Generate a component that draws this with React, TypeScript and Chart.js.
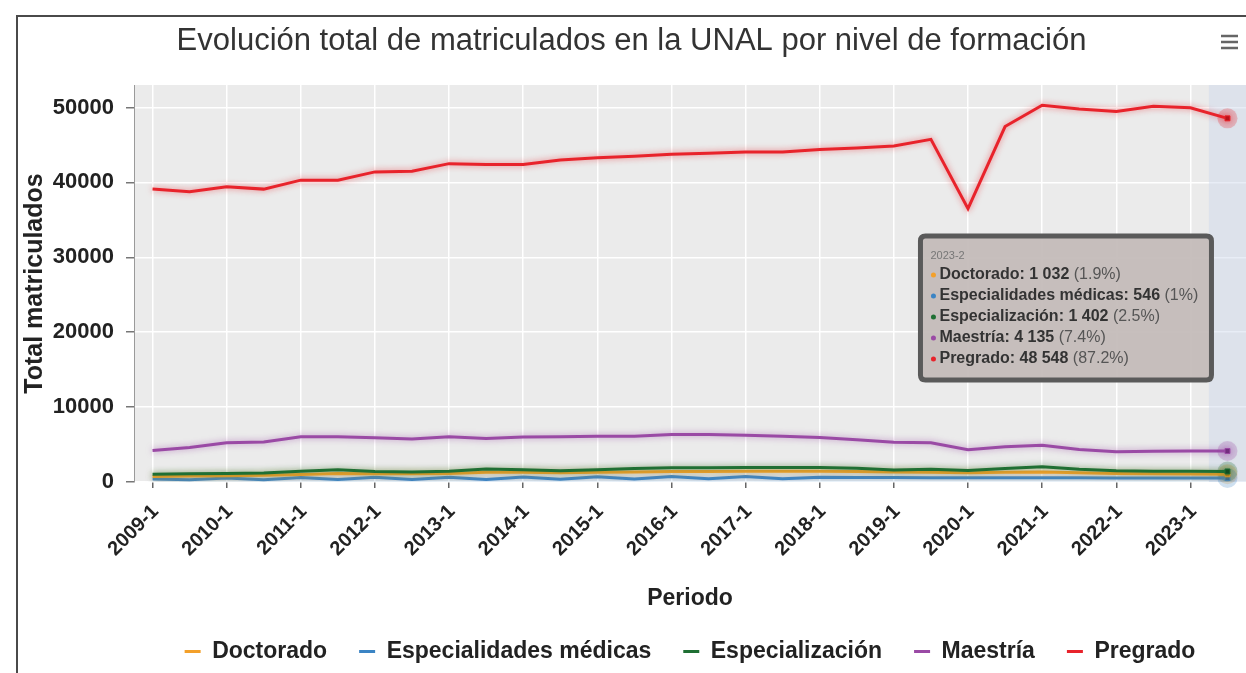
import React, { useEffect, useRef } from 'react';
import { Chart, registerables } from 'chart.js';

Chart.register(...registerables);

const FONT = "'Liberation Sans', Arial, Helvetica, sans-serif";
Chart.defaults.font.family = FONT;

const TITLE = 'Evolución total de matriculados en la UNAL por nivel de formación';

const periods = [
  '2009-1', '2009-2', '2010-1', '2010-2', '2011-1', '2011-2', '2012-1', '2012-2',
  '2013-1', '2013-2', '2014-1', '2014-2', '2015-1', '2015-2', '2016-1', '2016-2',
  '2017-1', '2017-2', '2018-1', '2018-2', '2019-1', '2019-2', '2020-1', '2020-2',
  '2021-1', '2021-2', '2022-1', '2022-2', '2023-1', '2023-2',
];

const doctorado = [
  750, 800, 850, 900, 1000, 1150, 1100, 1100, 1150, 1300, 1300, 1250, 1300, 1350, 1400,
  1400, 1450, 1450, 1450, 1400, 1350, 1300, 1250, 1300, 1350, 1250, 1150, 1100, 1080, 1032,
];

const especialidadesMedicas = [
  400, 300, 550, 300, 600, 320, 650, 340, 650, 350, 680, 380, 700, 400, 720,
  420, 720, 450, 650, 600, 600, 580, 560, 560, 570, 560, 550, 550, 550, 546,
];

const especializacion = [
  1050, 1100, 1150, 1200, 1450, 1650, 1400, 1350, 1450, 1750, 1650, 1500, 1650, 1800, 1900,
  1900, 1950, 1950, 1950, 1850, 1600, 1700, 1550, 1800, 2050, 1700, 1500, 1450, 1450, 1402,
];

const maestria = [
  4200, 4600, 5250, 5350, 6050, 6050, 5900, 5750, 6050, 5800, 6000, 6050, 6100, 6100, 6350,
  6350, 6250, 6100, 5950, 5650, 5300, 5250, 4300, 4700, 4900, 4350, 4050, 4100, 4150, 4135,
];

const pregrado = [
  39100, 38750, 39400, 39100, 40300, 40300, 41400, 41500, 42500, 42400, 42400, 43000, 43300, 43500, 43750,
  43900, 44050, 44050, 44400, 44600, 44850, 45750, 36500, 47450, 50300, 49800, 49450, 50150, 49950, 48548,
];

const yTicks = [0, 10000, 20000, 30000, 40000, 50000];
const yMax = 53000;

const seriesNames = ['Doctorado', 'Especialidades médicas', 'Especialización', 'Maestría', 'Pregrado'];
const seriesValues = [doctorado, especialidadesMedicas, especializacion, maestria, pregrado];
const seriesColors = ['#f3a02a', '#3b84c4', '#1f6f33', '#9a4aa5', '#e8232b'];
const seriesDark = ['#c47a10', '#22609a', '#124a20', '#6e2a7a', '#b3121a'];
const seriesOrder = [3, 4, 2, 1, 0];

function rgba(hex: string, a: number) {
  const n = parseInt(hex.slice(1), 16);
  return `rgba(${(n >> 16) & 255},${(n >> 8) & 255},${n & 255},${a})`;
}

function fmtNum(v: number) {
  return String(v).replace(/\B(?=(\d{3})+(?!\d))/g, ' ');
}

const HOVER_INDEX = periods.length - 1;

const backgroundPlugin = {
  id: 'bgFrame',
  beforeDraw(chart: any) {
    const { ctx, chartArea: a } = chart;
    ctx.save();
    ctx.fillStyle = '#ffffff';
    ctx.fillRect(0, 0, chart.width, chart.height);
    ctx.fillStyle = '#ebebeb';
    ctx.fillRect(a.left, a.top, a.right - a.left, a.bottom - a.top);
    ctx.strokeStyle = '#4a4a4a';
    ctx.lineWidth = 2;
    ctx.beginPath();
    ctx.moveTo(17, chart.height);
    ctx.lineTo(17, 16);
    ctx.lineTo(chart.width, 16);
    ctx.stroke();
    ctx.restore();
  },
  beforeDatasetsDraw(chart: any) {
    const { ctx, chartArea: a } = chart;
    const xs = chart.scales.x;
    const cx = xs.getPixelForValue(HOVER_INDEX);
    const half = (xs.getPixelForValue(1) - xs.getPixelForValue(0)) / 2;
    ctx.save();
    ctx.fillStyle = 'rgba(204,214,235,0.45)';
    ctx.fillRect(cx - half, a.top, half * 2, a.bottom - a.top);
    chart.data.datasets.forEach((_ds: any, i: number) => {
      const el = chart.getDatasetMeta(i).data[HOVER_INDEX];
      if (!el) return;
      ctx.beginPath();
      ctx.arc(el.x, el.y, 10, 0, Math.PI * 2);
      ctx.fillStyle = rgba(seriesColors[i], 0.25);
      ctx.fill();
    });
    ctx.restore();
  },
  beforeDatasetDraw(chart: any, args: any) {
    const { ctx } = chart;
    ctx.save();
    ctx.shadowColor = rgba(seriesColors[args.index], 0.6);
    ctx.shadowBlur = 6;
  },
  afterDatasetDraw(chart: any) {
    chart.ctx.restore();
  },
  afterDraw(chart: any) {
    const { ctx, chartArea: a } = chart;
    ctx.save();
    ctx.strokeStyle = '#666';
    ctx.lineWidth = 2.5;
    [36, 42, 48].forEach((y) => {
      ctx.beginPath();
      ctx.moveTo(1221, y);
      ctx.lineTo(1238, y);
      ctx.stroke();
    });
    ctx.restore();

    const total = seriesValues.reduce((s, arr) => s + arr[HOVER_INDEX], 0);
    const lines = seriesNames.map((name, i) => {
      const v = seriesValues[i][HOVER_INDEX];
      const pct = Math.round((v / total) * 1000) / 10;
      return { color: seriesColors[i], strong: `${name}: ${fmtNum(v)}`, light: ` (${pct}%)` };
    });
    const strongFont = `bold 16px ${FONT}`;
    const lightFont = `16px ${FONT}`;
    ctx.save();
    let maxW = 0;
    lines.forEach((l) => {
      ctx.font = strongFont;
      const w1 = ctx.measureText(l.strong).width;
      ctx.font = lightFont;
      const w2 = ctx.measureText(l.light).width;
      maxW = Math.max(maxW, w1 + w2);
    });
    const lastEl = chart.getDatasetMeta(4).data[HOVER_INDEX];
    const w = Math.round(maxW + 32);
    const h = 144;
    const bx = lastEl.x - 16 - w;
    const by = a.top + 151;
    const r = 5;
    ctx.beginPath();
    ctx.moveTo(bx + r, by);
    ctx.lineTo(bx + w - r, by);
    ctx.quadraticCurveTo(bx + w, by, bx + w, by + r);
    ctx.lineTo(bx + w, by + h - r);
    ctx.quadraticCurveTo(bx + w, by + h, bx + w - r, by + h);
    ctx.lineTo(bx + r, by + h);
    ctx.quadraticCurveTo(bx, by + h, bx, by + h - r);
    ctx.lineTo(bx, by + r);
    ctx.quadraticCurveTo(bx, by, bx + r, by);
    ctx.closePath();
    ctx.fillStyle = 'rgba(196,188,185,0.95)';
    ctx.fill();
    ctx.lineWidth = 5;
    ctx.strokeStyle = '#5a5a5a';
    ctx.stroke();

    ctx.textBaseline = 'middle';
    ctx.textAlign = 'left';
    ctx.font = `11px ${FONT}`;
    ctx.fillStyle = '#777';
    ctx.fillText(periods[HOVER_INDEX], bx + 10, by + 20);
    lines.forEach((l, i) => {
      const ly = by + 39 + i * 21;
      ctx.beginPath();
      ctx.arc(bx + 13, ly, 2.5, 0, Math.PI * 2);
      ctx.fillStyle = l.color;
      ctx.fill();
      ctx.font = strongFont;
      ctx.fillStyle = '#333';
      ctx.fillText(l.strong, bx + 19, ly);
      const w1 = ctx.measureText(l.strong).width;
      ctx.font = lightFont;
      ctx.fillStyle = '#555';
      ctx.fillText(l.light, bx + 19 + w1, ly);
    });
    ctx.restore();
  },
};

export default function App() {
  const canvasRef = useRef<HTMLCanvasElement | null>(null);

  useEffect(() => {
    const canvas = canvasRef.current;
    if (!canvas) return;
    const datasets = seriesNames.map((name, i) => ({
      label: name,
      data: seriesValues[i],
      borderColor: seriesColors[i],
      backgroundColor: seriesColors[i],
      borderWidth: 3,
      tension: 0,
      order: seriesOrder[i],
      pointStyle: 'rect' as const,
      pointRadius: (ctx: any) => (ctx.dataIndex === HOVER_INDEX ? 3.5 : 0),
      pointBackgroundColor: seriesDark[i],
      pointBorderColor: seriesColors[i],
      pointBorderWidth: 1,
    }));

    const chart = new Chart(canvas, {
      type: 'line',
      data: { labels: periods, datasets },
      plugins: [backgroundPlugin],
      options: {
        responsive: false,
        animation: false,
        devicePixelRatio: 1,
        events: [],
        layout: { autoPadding: false, padding: { left: 17, right: 0, top: 0, bottom: 0 } },
        plugins: {
          title: {
            display: true,
            text: TITLE,
            color: '#333',
            font: { family: FONT, size: 31, weight: 'normal' },
            padding: { top: 23, bottom: 24.8 },
          },
          legend: {
            position: 'bottom',
            fullSize: false,
            labels: {
              boxWidth: 16,
              boxHeight: 3,
              padding: 32,
              color: '#222',
              font: { family: FONT, size: 23, weight: 'bold' },
              generateLabels: (c: any) =>
                c.data.datasets.map((ds: any, i: number) => ({
                  text: ds.label,
                  fillStyle: ds.borderColor,
                  strokeStyle: ds.borderColor,
                  lineWidth: 0,
                  hidden: false,
                  datasetIndex: i,
                  fontColor: '#222',
                })),
            },
          },
          tooltip: { enabled: false },
        },
        scales: {
          x: {
            type: 'category',
            offset: true,
            border: { display: false },
            grid: {
              color: (c: any) => (c.index % 2 === 0 ? '#ffffff' : 'rgba(0,0,0,0)'),
              lineWidth: 1.5,
              tickLength: 6,
              tickWidth: 1.5,
              tickColor: (c: any) => (c.index % 2 === 0 ? '#666' : 'rgba(0,0,0,0)'),
            },
            ticks: {
              autoSkip: false,
              maxRotation: 45,
              minRotation: 45,
              padding: 12,
              labelOffset: 3,
              color: '#222',
              font: { family: FONT, size: 20, weight: 'bold' },
              callback: (_v: any, i: number) => (i % 2 === 0 ? periods[i] : ''),
            },
            title: {
              display: true,
              text: 'Periodo',
              color: '#222',
              font: { family: FONT, size: 23, weight: 'bold' },
              padding: { top: 0, bottom: -4 },
            },
            afterFit: (s: any) => {
              s.height = 126;
              s.paddingLeft = 0;
              s.paddingRight = 0;
            },
          },
          y: {
            min: 0,
            max: yMax,
            border: { display: true, color: '#9a9a9a', width: 1 },
            grid: {
              color: '#ffffff',
              lineWidth: 1.5,
              tickLength: 8,
              tickColor: '#777',
            },
            ticks: {
              padding: 12,
              color: '#222',
              font: { family: FONT, size: 22, weight: 'bold' },
              callback: (v: any) => String(v),
            },
            title: {
              display: true,
              text: 'Total matriculados',
              color: '#222',
              font: { family: FONT, size: 25, weight: 'bold' },
              padding: { top: 3, bottom: 0 },
            },
            afterBuildTicks: (s: any) => {
              s.ticks = yTicks.map((v) => ({ value: v }));
            },
            afterFit: (s: any) => {
              s.width = 117;
              s.paddingTop = 0;
              s.paddingBottom = 0;
            },
          },
        },
      } as any,
    });
    return () => chart.destroy();
  }, []);

  return (
    <div style={{ position: 'absolute', left: 0, top: 0, width: 1246, height: 673, overflow: 'hidden' }}>
      <canvas ref={canvasRef} width={1246} height={673} style={{ display: 'block' }} />
    </div>
  );
}
